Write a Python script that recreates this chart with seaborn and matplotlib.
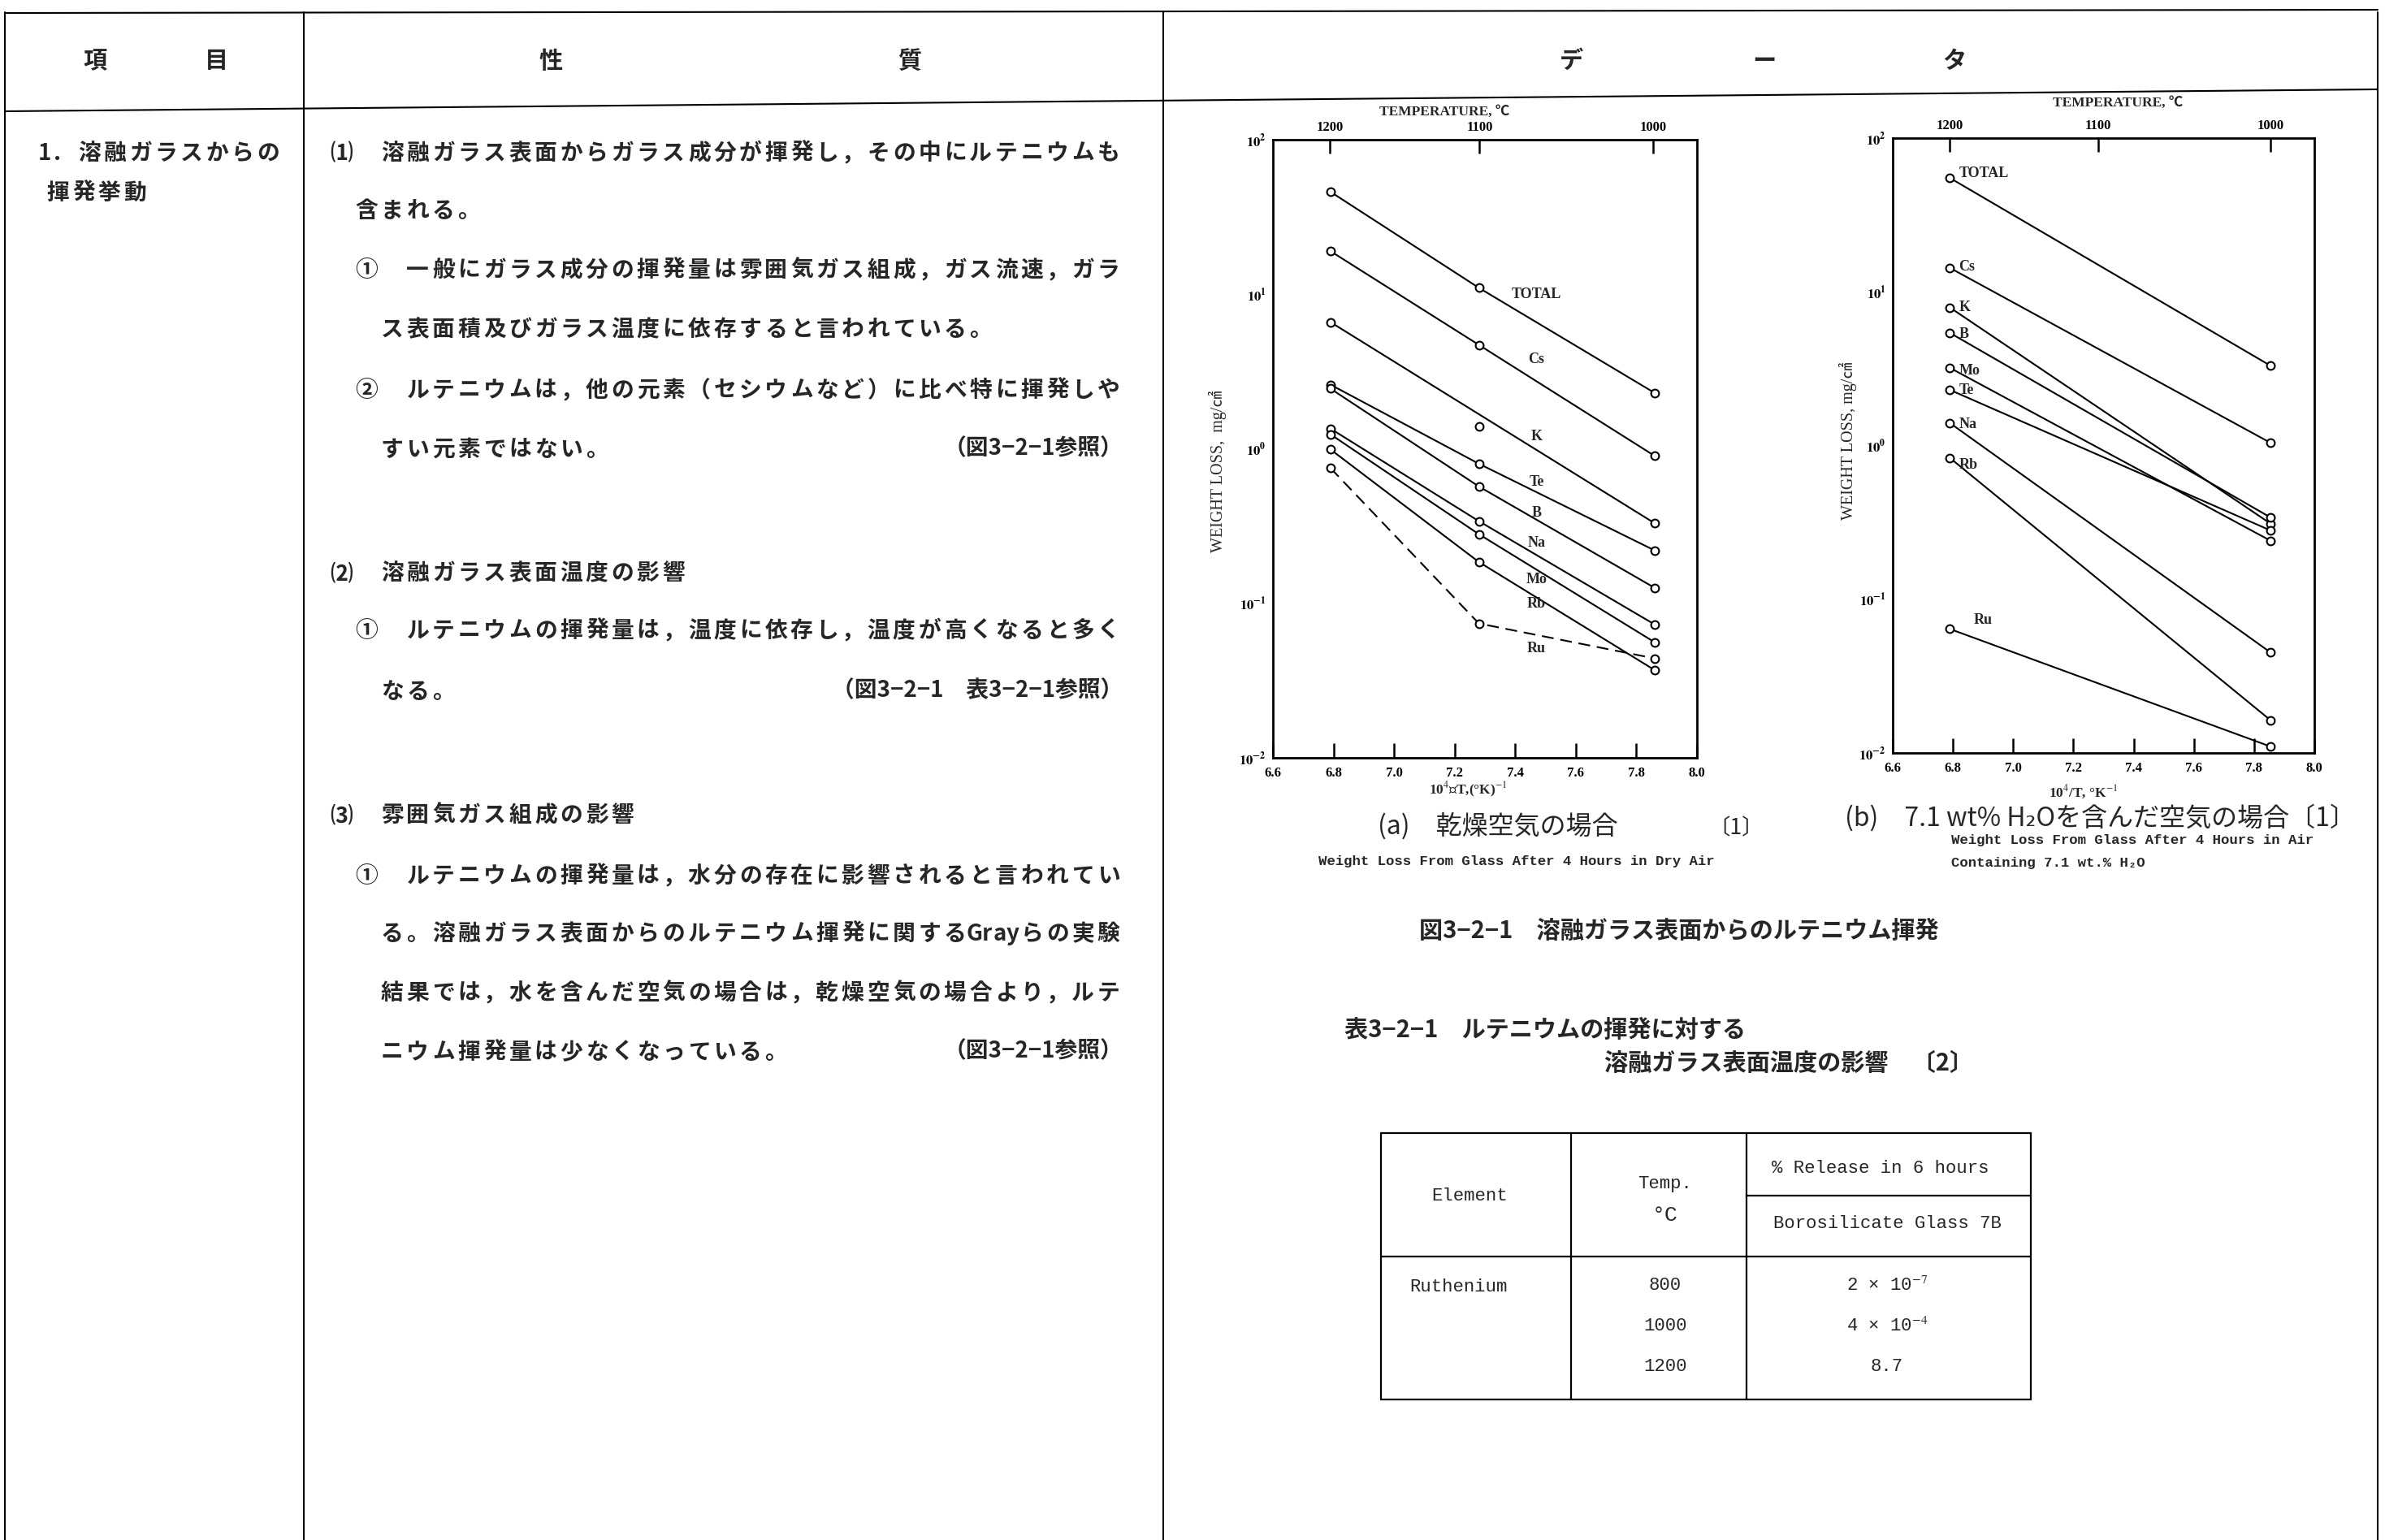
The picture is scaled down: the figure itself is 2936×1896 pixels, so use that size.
import numpy as np
import pandas as pd
import matplotlib
matplotlib.use("Agg")
import matplotlib.pyplot as plt
import seaborn as sns
from matplotlib.ticker import FuncFormatter, LogLocator, NullFormatter

# ---- values ----
# (a) dry air: weight loss (mg/cm2) at 10^4/T = 6.79, 7.28, 7.86  (1200, 1100, 1000 C)
dry_x = [6.79, 7.28, 7.86]
dry_loss = {
    "TOTAL": [46.0, 11.0, 2.3],
    "Cs": [19.0, 4.7, 0.90],
    "K": [6.6, 1.4, 0.33],
    "Te": [2.6, 0.80, 0.22],
    "B": [2.45, 0.57, 0.126],
    "Na": [1.35, 0.34, 0.073],
    "Mo": [1.24, 0.28, 0.056],
    "Rb": [0.99, 0.185, 0.037],
    "Ru": [0.75, 0.074, 0.044],
}
# (b) air with 7.1 wt% H2O: only 1200 and 1000 C
wet_x = [6.79, 7.855]
wet_loss = {
    "TOTAL": [55.0, 3.3],
    "Cs": [14.3, 1.04],
    "K": [7.9, 0.31],
    "B": [5.4, 0.34],
    "Mo": [3.2, 0.24],
    "Te": [2.3, 0.28],
    "Na": [1.4, 0.045],
    "Rb": [0.83, 0.0163],
    "Ru": [0.064, 0.011],
}
temp_ticks = [1200, 1100, 1000]

# table 3-2-1
tbl_element = "Ruthenium"
tbl_temp = [800, 1000, 1200]
tbl_release = [2e-7, 4e-4, 8.7]

W, H = 2936, 1896
JP = ["Noto Sans CJK JP", "DejaVu Sans"]
SERIF = ["Liberation Serif", "Noto Sans CJK JP", "DejaVu Sans"]
MONO = ["Liberation Mono", "DejaVu Sans Mono"]

sns.set_theme(style="white", rc={"axes.edgecolor": "black", "xtick.color": "black",
                                 "ytick.color": "black", "mathtext.fontset": "stix"})
plt.rcParams["font.family"] = JP


def to_frame(xs, table):
    rows = [(k, x, v) for k, vals in table.items() for x, v in zip(xs, vals)]
    return pd.DataFrame(rows, columns=["element", "x", "loss"])


def px_rect(x0, y0, x1, y1):
    return [x0 / W, 1 - y1 / H, (x1 - x0) / W, (y1 - y0) / H]


def draw_panel(ax, df, straight=(), dashed=()):
    ax.set_yscale("log")
    for name, g in df.groupby("element", sort=False):
        if name in straight:
            g = g.iloc[[0, -1]]
        sns.lineplot(data=g, x="x", y="loss", ax=ax, color="black", lw=1.5,
                     ls=(0, (7, 4)) if name in dashed else "-", legend=False, zorder=2)
    sns.scatterplot(data=df, x="x", y="loss", ax=ax, s=50, color="white",
                    edgecolor="black", linewidth=1.5, zorder=3, legend=False)
    ax.set_xlim(6.6, 8.0)
    ax.set_ylim(1e-2, 1e2)
    ax.set_xticks(np.round(np.arange(6.6, 8.01, 0.2), 1))
    ax.xaxis.set_major_formatter(FuncFormatter(lambda v, p: f"{v:.1f}"))
    ax.yaxis.set_major_locator(LogLocator(10, numticks=10))
    ax.yaxis.set_minor_locator(LogLocator(10, subs=np.arange(2, 10), numticks=10))
    ax.yaxis.set_minor_formatter(NullFormatter())
    ax.yaxis.set_major_formatter(
        FuncFormatter(lambda v, p: rf"$\mathbf{{10^{{{int(round(np.log10(v)))}}}}}$"))
    ax.tick_params(which="both", direction="in", top=False, right=False)
    ax.tick_params(axis="y", which="major", length=15, width=1.8, pad=6, labelsize=12)
    ax.tick_params(axis="y", which="minor", length=8, width=1.3)
    ax.tick_params(axis="x", which="major", length=13, width=1.8, pad=8,
                   labelsize=12, labelfontfamily=SERIF)
    ax.set_xlabel("")
    ax.set_ylabel("")
    ax.grid(False)
    for lab in ax.get_xticklabels():
        lab.set_fontweight("bold")
    for sp in ax.spines.values():
        sp.set_visible(True)
        sp.set_linewidth(2.0)
        sp.set_color("black")
    tw = ax.twiny()
    tw.set_xlim(6.6, 8.0)
    tw.set_xticks([1e4 / (t + 273.15) for t in temp_ticks])
    tw.set_xticklabels([str(t) for t in temp_ticks], fontweight="bold")
    tw.tick_params(direction="in", length=12, width=1.8, pad=5, labelsize=12,
                   labelfontfamily=SERIF)
    for sp in tw.spines.values():
        sp.set_visible(False)


fig = plt.figure(figsize=(W / 100, H / 100), dpi=100)
page = fig.add_axes([0, 0, 1, 1])
page.set_xlim(0, W)
page.set_ylim(H, 0)
page.axis("off")


def put(x, y, s, size=20, ha="left", family=JP, weight="bold", **kw):
    page.text(x, y, s, fontsize=size, ha=ha, va="center", family=family,
              fontweight=weight, **kw)


PITCH = 31.5
BODY_PT = 20


def grid_line(x0, y, s, pitch=PITCH, size=BODY_PT):
    # fixed-pitch typewriter layout: full-width cells, half cells for ascii
    base = y + 0.36 * size * 100 / 72
    x = x0
    for ch in s:
        w = pitch if ord(ch) > 0x2000 else pitch / 2
        if ch.strip():
            page.text(x + w / 2, base, ch, fontsize=size, ha="center",
                      va="baseline", family=JP, fontweight="bold")
        x += w


# ---- page frame (the scan is a little skewed) ----
lw_frame = 1.5
page.plot([6, 2927], [16, 12], color="black", lw=lw_frame)
page.plot([6, 2927], [137, 110], color="black", lw=lw_frame)
for xv in [6, 374, 1432, 2927]:
    page.plot([xv, xv], [15, H], color="black", lw=lw_frame)

# header row
for x, ch in [(117, "項"), (266, "目"), (678, "性"), (1120, "質"),
              (1934, "デ"), (2172, "ー"), (2406, "タ")]:
    put(x, 75, ch, ha="center", size=21)

# first column
grid_line(47, 187, "1. 溶融ガラスからの")
grid_line(56, 236, "揮発挙動")

# second column text
X0 = 404
body = [
    (0, 187, "⑴　溶融ガラス表面からガラス成分が揮発し，その中にルテニウムも"),
    (1, 258, "含まれる。"),
    (1, 331, "①　一般にガラス成分の揮発量は雰囲気ガス組成，ガス流速，ガラ"),
    (2, 404, "ス表面積及びガラス温度に依存すると言われている。"),
    (1, 479, "②　ルテニウムは，他の元素（セシウムなど）に比べ特に揮発しや"),
    (2, 552, "すい元素ではない。"),
    (0, 704, "⑵　溶融ガラス表面温度の影響"),
    (1, 775, "①　ルテニウムの揮発量は，温度に依存し，温度が高くなると多く"),
    (2, 850, "なる。"),
    (0, 1002, "⑶　雰囲気ガス組成の影響"),
    (1, 1077, "①　ルテニウムの揮発量は，水分の存在に影響されると言われてい"),
    (2, 1148, "る。溶融ガラス表面からのルテニウム揮発に関するGrayらの実験"),
    (2, 1221, "結果では，水を含んだ空気の場合は，乾燥空気の場合より，ルテ"),
    (2, 1294, "ニウム揮発量は少なくなっている。"),
]
for col, y, s in body:
    grid_line(X0 + col * PITCH, y, s)
for y, s in [(552, "（図3−2−1参照）"), (850, "（図3−2−1　表3−2−1参照）"),
             (1294, "（図3−2−1参照）")]:
    put(1382, y, s, size=BODY_PT, ha="right")

# ---- charts ----
ax_a = fig.add_axes(px_rect(1567, 172, 2089, 933))
ax_b = fig.add_axes(px_rect(2330, 170, 2849, 927))
draw_panel(ax_a, to_frame(dry_x, dry_loss), straight=("K",), dashed=("Ru",))
draw_panel(ax_b, to_frame(wet_x, wet_loss))

dry_label_y = [10, 3.8, 1.2, 0.61, 0.385, 0.246, 0.142, 0.099, 0.051]
for name, yv in zip(dry_loss, dry_label_y):
    ax_a.text(7.47, yv, name, ha="center", va="center", fontsize=13,
              family=SERIF, fontweight="bold")
wet_label_k = [1.07, 1.02, 1.0, 0.98, 0.96, 1.0, 0.98, 0.9, 1.14]
for (name, vals), k in zip(wet_loss.items(), wet_label_k):
    dx = 0.08 if name == "Ru" else 0.03
    ax_b.text(wet_x[0] + dx, vals[0] * k, name, ha="left", va="center",
              fontsize=13, family=SERIF, fontweight="bold")

put(1778, 138, "TEMPERATURE, ℃", size=12.5, ha="center", family=SERIF)
put(2607, 127, "TEMPERATURE, ℃", size=12.5, ha="center", family=SERIF)
put(1807, 972, r"10$^4$／T,(°K)$^{-1}$", size=12.5, ha="center", family=SERIF)
put(2565, 975, r"10$^4$/T, °K$^{-1}$", size=12.5, ha="center", family=SERIF)
put(1499, 580, "WEIGHT LOSS,  mg/㎠", size=14.5, ha="center", family=SERIF,
    weight="normal", rotation=90)
put(2275, 543, "WEIGHT LOSS, mg/㎠", size=14.5, ha="center", family=SERIF,
    weight="normal", rotation=90)

# captions
put(1696, 1017, "(a)　乾燥空気の場合", size=23, weight="normal")
put(2137, 1020, "〔1〕", size=19, ha="center", weight="normal")
put(1867, 1061, "Weight Loss From Glass After 4 Hours in Dry Air", size=12.5,
    ha="center", family=MONO)
put(2271, 1007, "(b)　7.1 wt% H₂Oを含んだ空気の場合〔1〕", size=23, weight="normal")
put(2402, 1034, "Weight Loss From Glass After 4 Hours in Air", size=12.5, family=MONO)
put(2402, 1063, "Containing 7.1 wt.% H₂O", size=12.5, family=MONO)
put(1747, 1146, "図3−2−1　溶融ガラス表面からのルテニウム揮発", size=21)
put(1655, 1268, "表3−2−1　ルテニウムの揮発に対する", size=21)
put(1975, 1309, "溶融ガラス表面温度の影響　〔2〕", size=21)

# ---- table 3-2-1 ----
lw_t = 1.6
for yv in [1395, 1547, 1723]:
    page.plot([1700, 2500], [yv, yv], color="black", lw=lw_t)
page.plot([2150, 2500], [1472, 1472], color="black", lw=lw_t)
for xv in [1700, 1934, 2150, 2500]:
    page.plot([xv, xv], [1395, 1723], color="black", lw=lw_t)

TB = 16
put(1809, 1472, "Element", size=TB, ha="center", family=MONO, weight="normal")
put(2050, 1458, "Temp.", size=TB, ha="center", family=MONO, weight="normal")
put(2050, 1496, "°C", size=TB + 3, ha="center", family=MONO, weight="normal")
put(2315, 1438, "% Release in 6 hours", size=TB, ha="center", family=MONO, weight="normal")
put(2323, 1506, "Borosilicate Glass 7B", size=TB, ha="center", family=MONO, weight="normal")
put(1795, 1584, tbl_element, size=TB, ha="center", family=MONO, weight="normal")


def fmt_release(v):
    if v < 0.01:
        e = int(np.floor(np.log10(v)))
        return rf"{v / 10 ** e:.0f} × 10$^{{{e}}}$"
    return f"{v}"


for i, (t, r) in enumerate(zip(tbl_temp, tbl_release)):
    yv = 1583 + i * 50
    put(2050, yv, str(t), size=TB, ha="center", family=MONO, weight="normal")
    put(2323, yv, fmt_release(r), size=TB, ha="center", family=MONO, weight="normal")

fig.savefig("out.png", dpi=100)
